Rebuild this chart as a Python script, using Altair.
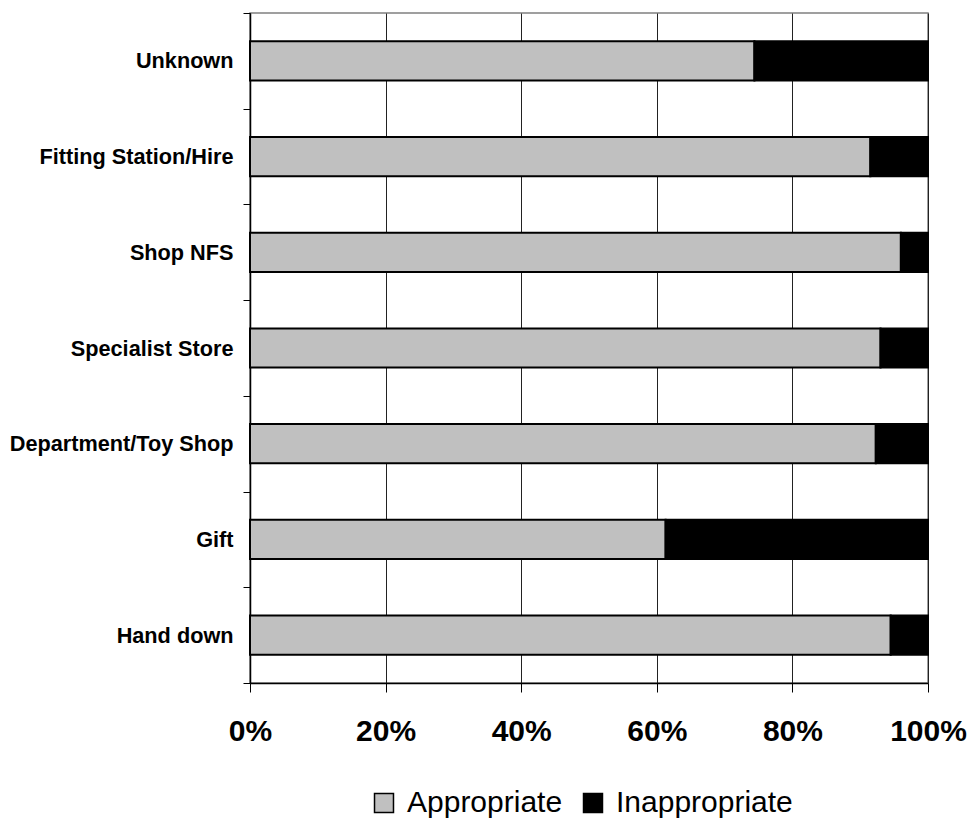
import altair as alt
import pandas as pd

# Purchase source categories, top to bottom
sources = [
    "Unknown",
    "Fitting Station/Hire",
    "Shop NFS",
    "Specialist Store",
    "Department/Toy Shop",
    "Gift",
    "Hand down",
]
# Share of each source (percent)
appropriate = [74.4, 91.5, 96.0, 93.0, 92.3, 61.3, 94.5]
inappropriate = [25.6, 8.5, 4.0, 7.0, 7.7, 38.7, 5.5]

groups = ["Appropriate", "Inappropriate"]
group_colors = ["#C0C0C0", "#000000"]

rows = []
for s, a, i in zip(sources, appropriate, inappropriate):
    rows.append({"source": s, "group": "Appropriate", "value": a, "rank": 0})
    rows.append({"source": s, "group": "Inappropriate", "value": i, "rank": 1})
df = pd.DataFrame(rows)

FONT = "Liberation Sans"

bars = (
    alt.Chart(df)
    .mark_bar(stroke="#000000", strokeWidth=2, height={"band": 0.41})
    .encode(
        y=alt.Y(
            "source:N",
            sort=sources,
            title=None,
            scale=alt.Scale(paddingInner=0, paddingOuter=0),
            axis=alt.Axis(
                tickBand="extent",
                tickSize=7,
                tickColor="#000000",
                domainColor="#000000",
                domainWidth=1.5,
                labelFont=FONT,
                labelFontSize=21.7,
                labelFontWeight="bold",
                labelColor="#000000",
                labelPadding=10,
                labelLimit=300,
                grid=False,
            ),
        ),
        x=alt.X(
            "value:Q",
            stack="normalize",
            title=None,
            scale=alt.Scale(domain=[0, 1], nice=False),
            axis=alt.Axis(
                values=[0, 0.2, 0.4, 0.6, 0.8, 1.0],
                format=".0%",
                tickSize=9,
                tickColor="#000000",
                domainColor="#000000",
                domainWidth=1.5,
                labelFont=FONT,
                labelFontSize=30,
                labelFontWeight="bold",
                labelColor="#000000",
                labelPadding=24,
                labelFlush=False,
                grid=True,
                gridColor="#222222",
                gridWidth=1,
            ),
        ),
        color=alt.Color(
            "group:N",
            scale=alt.Scale(domain=groups, range=group_colors),
            legend=alt.Legend(
                title=None,
                orient="none",
                direction="horizontal",
                legendX=119,
                legendY=775,
                symbolType="square",
                symbolSize=360,
                symbolStrokeColor="#000000",
                symbolStrokeWidth=1.5,
                symbolOpacity=1,
                labelFont=FONT,
                labelFontSize=30,
                labelColor="#000000",
                labelOffset=8,
                labelLimit=400,
                columnPadding=15,
            ),
        ),
        order=alt.Order("rank:Q"),
    )
)

chart = (
    bars.properties(
        width=678,
        height=670,
        autosize=alt.AutoSizeParams(type="none"),
        padding={"left": 250, "top": 13, "right": 42, "bottom": 137},
        background="#ffffff",
    )
    .configure_view(stroke="#808080", strokeWidth=1.5)
)

chart.save("out.html", embed_options={"renderer": "svg", "actions": False})
